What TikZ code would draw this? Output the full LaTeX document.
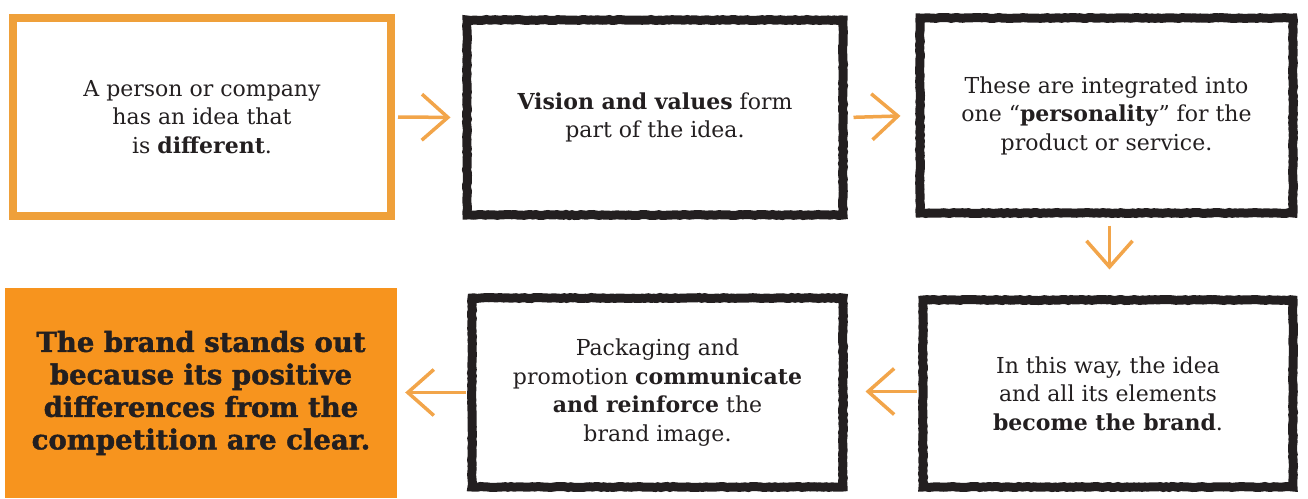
\documentclass[tikz,border=0pt]{standalone}
\usepackage{fontspec}
\setmainfont{DejaVu Serif}
\newfontfamily\heavyfont[UprightFont={* Bold},FakeBold=1.5]{DejaVu Serif}
\usetikzlibrary{arrows.meta,decorations.pathmorphing}
\definecolor{boxorange}{HTML}{EFA03A}
\definecolor{fillorange}{HTML}{F7941E}
\definecolor{arroworange}{HTML}{F2A54A}
\definecolor{ink}{HTML}{231F20}
\tikzset{
  rough/.style={decorate,decoration={random steps,segment length=3pt,amplitude=0.5pt}},
  blackbox/.style={draw=ink,line width=9pt,rough,align=center,text=ink,font=\fontsize{22}{28.5}\selectfont,inner sep=0pt},
  orangebox/.style={draw=boxorange,line width=8pt,align=center,text=ink,font=\fontsize{22}{28.5}\selectfont,inner sep=0pt},
  filledbox/.style={fill=fillorange,align=center,text=ink,font=\fontsize{27.5}{32.5}\heavyfont,inner sep=0pt},
  flow/.style={draw=arroworange,line width=3.5pt,-{Straight Barb[length=26pt,width=46pt,line width=3.5pt]}}
}
\begin{document}
\pgfmathsetseed{7}
\begin{tikzpicture}[x=1pt,y=-1pt]
\useasboundingbox (0,0) rectangle (1308,498);
\node[orangebox,minimum width=378pt,minimum height=198pt] (b1) at (202,117)
  {A person or company\\has an idea that\\is \textbf{different}.};
\node[blackbox,minimum width=376pt,minimum height=195pt] (b2) at (655,117.5)
  {\textbf{Vision and values} form\\part of the idea.};
\node[blackbox,minimum width=373pt,minimum height=195pt] (b3) at (1106.5,115.5)
  {These are integrated into\\one “\textbf{personality}” for the\\product or service.};
\node[filledbox,minimum width=392pt,minimum height=210pt] (b4) at (201,393)
  {The brand stands out\\because its positive\\differences from the\\competition are clear.};
\node[blackbox,minimum width=371pt,minimum height=189pt] (b5) at (657.5,392.5)
  {Packaging and\\promotion \textbf{communicate}\\\textbf{and reinforce} the\\brand image.};
\node[blackbox,minimum width=370pt,minimum height=187pt] (b6) at (1108,393.5)
  {In this way, the idea\\and all its elements\\\textbf{become the brand}.};
\draw[flow,shorten <=3pt,shorten >=12pt] (b1.east) -- (b2.west);
\draw[flow,shorten <=6pt,shorten >=15pt] (b2.east) -- (b3.west);
\draw[flow,shorten <=8pt,shorten >=26pt] ([xshift=3pt]b3.south) -- ([xshift=3pt]b3.south |- b6.north);
\draw[flow,shorten <=2pt,shorten >=18pt] ([yshift=2pt]b6.west) -- ([yshift=2pt]b6.west -| b5.east);
\draw[flow,shorten <=2pt,shorten >=8pt] (b5.west) -- (b5.west -| b4.east);
\end{tikzpicture}
\end{document}
